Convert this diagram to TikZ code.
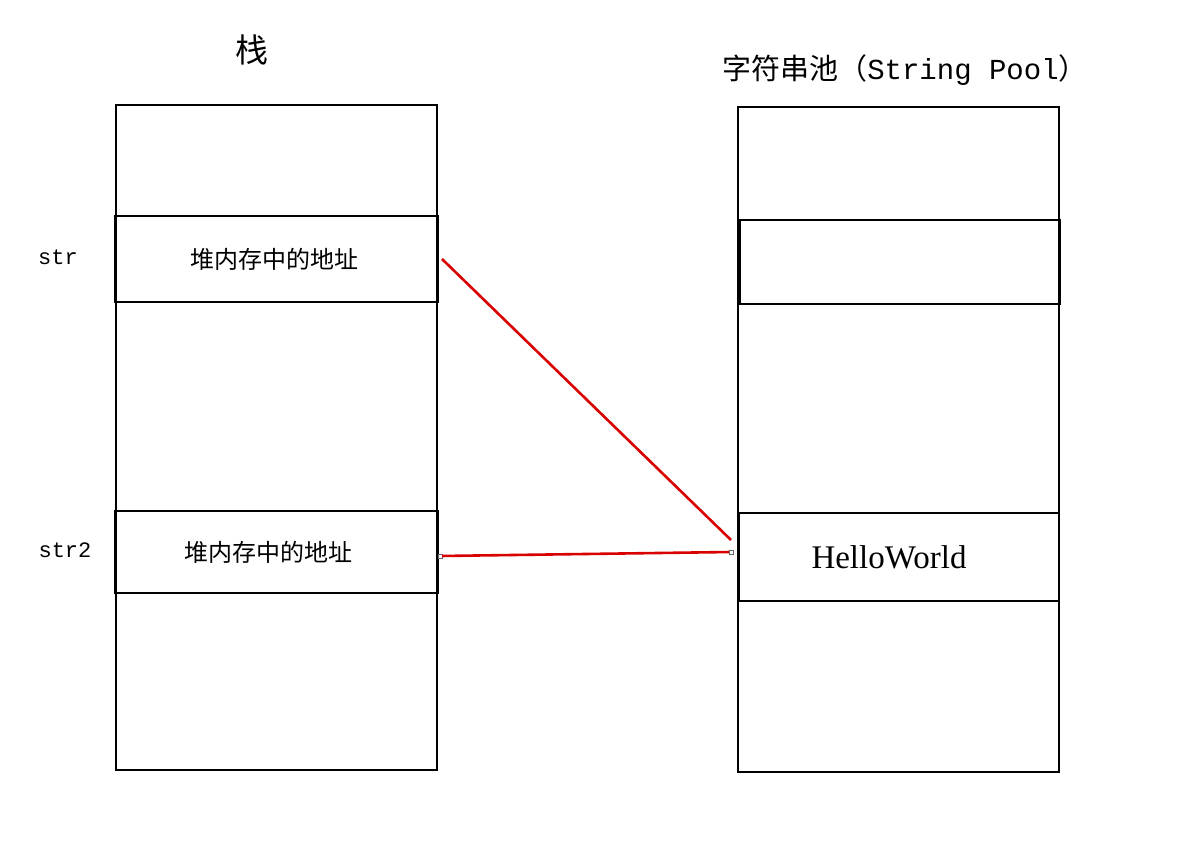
\documentclass[tikz,border=0pt]{standalone}
\usepackage{fontspec}
\setmainfont{Liberation Serif}
\newfontfamily\cjk{Noto Sans CJK SC}
\newfontfamily\mono{Liberation Mono}
\begin{document}
\begin{tikzpicture}[x=1pt,y=-1pt,
  box/.style={draw=black,line width=2.6pt},
  link/.style={draw=red!85!black,line width=2.6pt},
  endsq/.style={draw=black!60,fill=white,line width=0.4pt,minimum size=4pt,inner sep=0pt}]
\useasboundingbox (0,0) rectangle (1202,842);
% left stack
\draw[box] (116,105) rectangle (437,770);
\draw[box] (115,216) rectangle (438,302);
\draw[box] (115,511) rectangle (438,593);
% right pool
\draw[box] (738,107) rectangle (1059,772);
\draw[box] (740,220) rectangle (1060,304);
\draw[box] (739,513) rectangle (1059,601);
% texts
\node (t1) at (252,50) {\cjk\fontsize{33}{36}\selectfont 栈};
\node (t2) at (905,70) {\fontsize{29}{33}\selectfont{\cjk 字符串池（}{\mono String Pool}{\cjk ）}};
\node (s1) at (58,257) {\mono\fontsize{22}{26}\selectfont str};
\node (s2) at (65,550) {\mono\fontsize{22}{26}\selectfont str2};
\node (a1) at (274,259) {\cjk\fontsize{24}{28}\selectfont 堆内存中的地址};
\node (a2) at (268,552) {\cjk\fontsize{24}{28}\selectfont 堆内存中的地址};
\node (hw) at (889,557) {\fontsize{33}{36}\selectfont HelloWorld};
% connectors
\coordinate (p1) at (442,259);
\coordinate (q1) at (731,540);
\node[endsq] (q2) at (731,552) {};
\node[endsq] (p2s) at (440,556) {};
\draw[link] (p1) -- (q1);
\draw[link] (p2s) -- (q2);
\end{tikzpicture}
\end{document}
